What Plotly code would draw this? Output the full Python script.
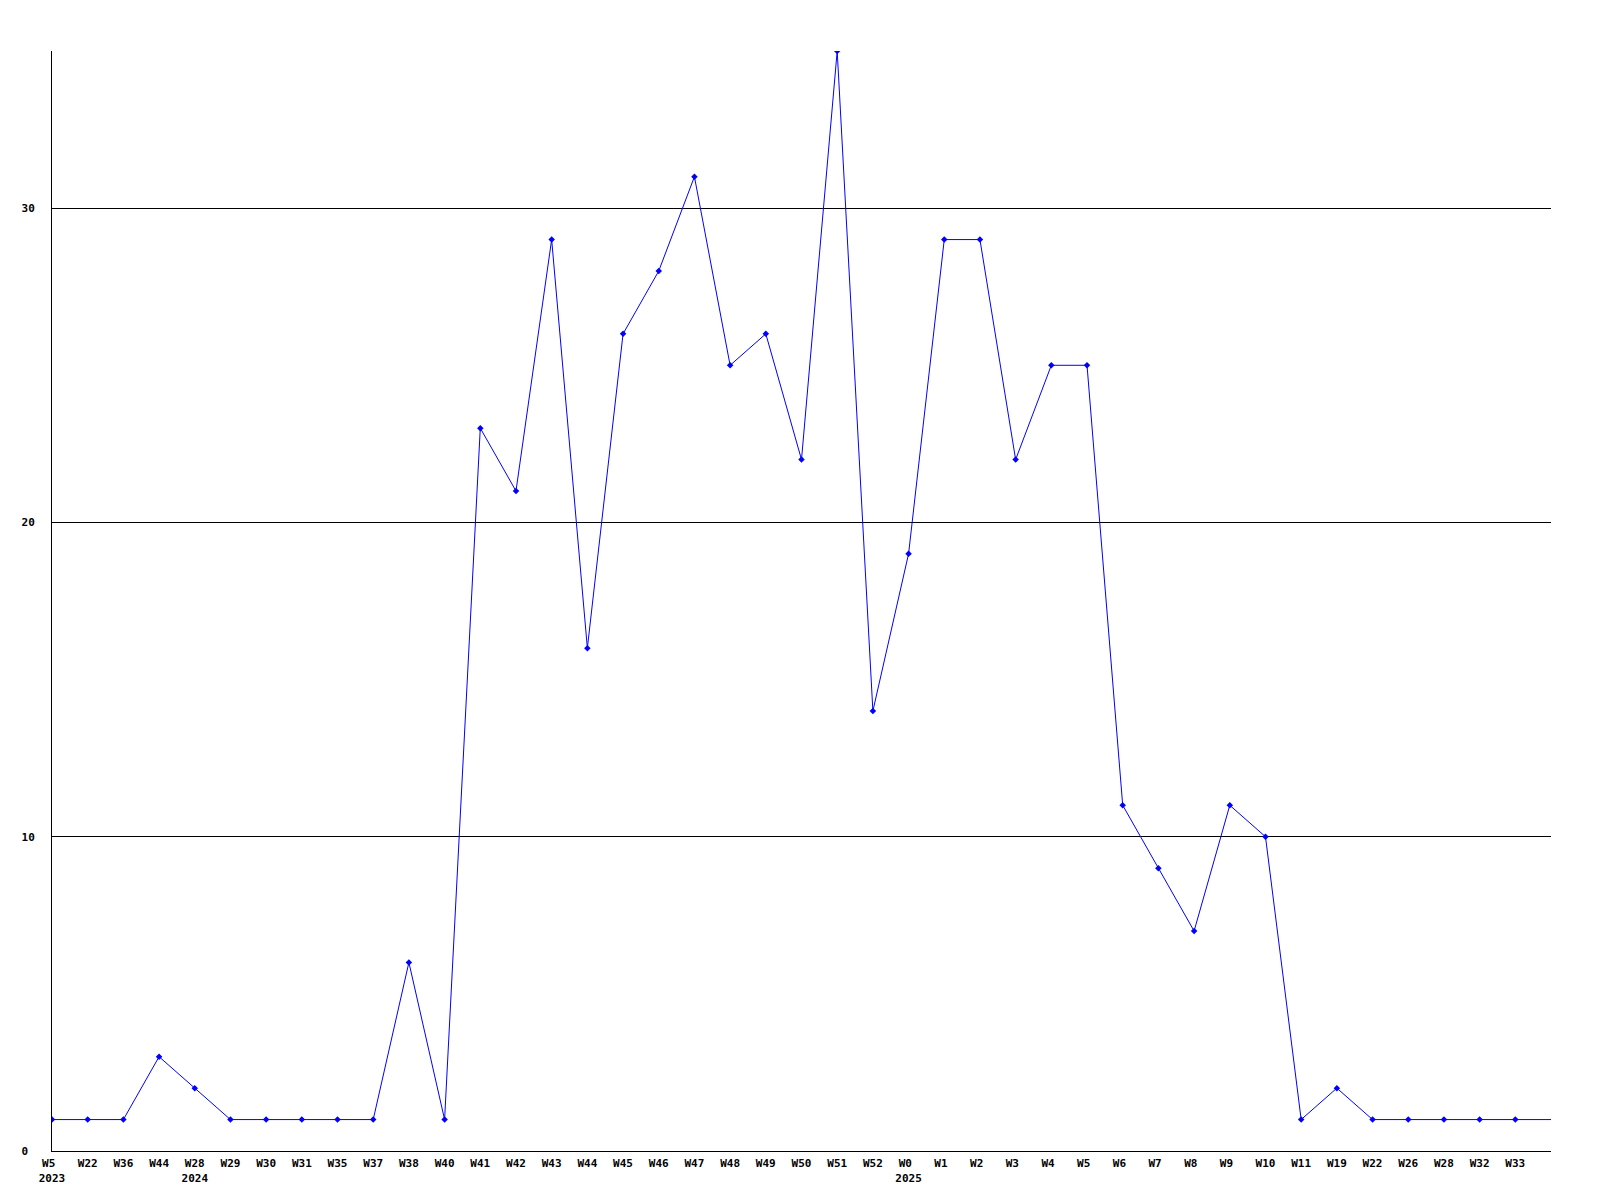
import plotly.graph_objects as go

weeks = ["W5", "W22", "W36", "W44", "W28", "W29", "W30", "W31", "W35", "W37", "W38", "W40",
         "W41", "W42", "W43", "W44", "W45", "W46", "W47", "W48", "W49", "W50", "W51", "W52",
         "W0", "W1", "W2", "W3", "W4", "W5", "W6", "W7", "W8", "W9", "W10", "W11",
         "W19", "W22", "W26", "W28", "W32", "W33", ""]
years = ["2023", "", "", "", "2024", "", "", "", "", "", "", "",
         "", "", "", "", "", "", "", "", "", "", "", "",
         "2025", "", "", "", "", "", "", "", "", "", "", "",
         "", "", "", "", "", "", ""]
values = [1, 1, 1, 3, 2, 1, 1, 1, 1, 1, 6, 1,
          23, 21, 29, 16, 26, 28, 31, 25, 26, 22, 35, 14,
          19, 29, 29, 22, 25, 25, 11, 9, 7, 11, 10, 1,
          2, 1, 1, 1, 1, 1, 1]
y_ticks = [0, 10, 20, 30]

NB = "\u00a0"
x = list(range(len(values)))
labeled = [i for i, w in enumerate(weeks) if w]
ticktext = []
for i in labeled:
    w = weeks[i].ljust(3, NB)
    ticktext.append(w + ("<br>" + years[i] if years[i] else ""))

font = dict(family="DejaVu Sans Mono", size=11, color="black", weight="bold")

fig = go.Figure()
fig.add_trace(go.Scatter(x=x, y=values, mode="lines",
                         line=dict(color="#0000ff", width=1), hoverinfo="skip"))
fig.add_trace(go.Scatter(x=[x[i] for i in labeled], y=[values[i] for i in labeled],
                         mode="markers",
                         marker=dict(color="#0000ff", size=5, symbol="diamond")))

fig.update_layout(
    width=1584, height=1184,
    margin=dict(l=44, r=41, t=43, b=41),
    paper_bgcolor="white", plot_bgcolor="white",
    showlegend=False,
    font=font,
)
fig.update_xaxes(range=[0, len(values) - 1], tickvals=labeled, ticktext=ticktext,
                 showgrid=False, zeroline=False, showline=True, linecolor="black",
                 linewidth=1, ticks="", tickfont=font, tickangle=0,
                 ticklabelstandoff=2, automargin=False)
fig.update_yaxes(range=[0, 35], tickvals=y_ticks,
                 ticktext=[str(v).ljust(2, NB) for v in y_ticks],
                 showgrid=True, gridcolor="black", gridwidth=1, zeroline=False,
                 showline=True, linecolor="black", linewidth=1, ticks="",
                 tickfont=font, ticklabelstandoff=14, automargin=False)

fig.write_html("out.html")
